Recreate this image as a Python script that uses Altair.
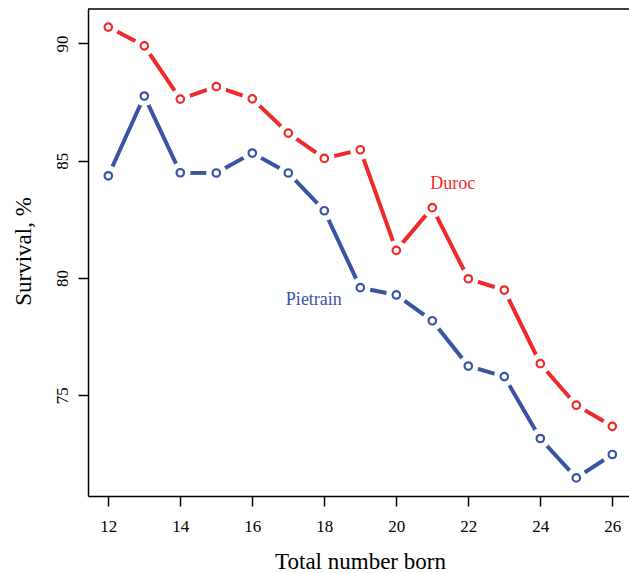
import altair as alt
import pandas as pd

total_born = list(range(12, 27))
duroc = [90.70, 89.90, 87.63, 88.16, 87.64, 86.18, 85.10, 85.47, 81.18, 83.00, 79.97, 79.49, 76.35, 74.58, 73.68]
pietrain = [84.36, 87.76, 84.49, 84.48, 85.33, 84.48, 82.87, 79.59, 79.28, 78.18, 76.25, 75.80, 73.16, 71.48, 72.48]
breeds = ["Duroc", "Pietrain"]
colors = ["#EE2A2A", "#3A53A4"]
x_ticks = [12, 14, 16, 18, 20, 22, 24, 26]
y_ticks = [75, 80, 85, 90]

label_names = ["Duroc", "Pietrain"]
label_x = [21.57, 17.71]
label_y = [84.02, 79.05]

rows = []
for b, series in zip(breeds, [duroc, pietrain]):
    for xv, yv in zip(total_born, series):
        rows.append({"born": xv, "survival": yv, "breed": b})
df = pd.DataFrame(rows)
labels = pd.DataFrame({"breed": label_names, "born": label_x, "survival": label_y})

FONT = "Liberation Serif"
W, H = 541, 487

xscale = alt.Scale(domain=[11.436, 11.436 + W / 36.0], nice=False, zero=False)
yscale = alt.Scale(domain=[70.71, 91.47], nice=False, zero=False)
cscale = alt.Scale(domain=breeds, range=colors)

xaxis = alt.Axis(values=x_ticks, format="d", title="Total number born", grid=False,
                 labelFont=FONT, labelFontWeight="normal", titleFont=FONT,
                 labelBaseline="alphabetic", labelPadding=25, labelFontSize=17,
                 titleFontSize=23, titleBaseline="alphabetic", titleX=272, titleY=72,
                 titleAlign="center")
yaxis = alt.Axis(values=y_ticks, format="d", title="Survival, %", grid=False,
                 labelFont=FONT, labelFontWeight="normal", titleFont=FONT,
                 labelAngle=270, labelAlign="center", labelBaseline="alphabetic",
                 labelPadding=11, labelFontSize=17,
                 titleFontSize=23, titleAngle=270, titleAlign="center",
                 titleBaseline="alphabetic", titleX=-58, titleY=242)

base = alt.Chart(df)
line = base.mark_line(strokeWidth=4).encode(
    x=alt.X("born:Q", scale=xscale, axis=xaxis),
    y=alt.Y("survival:Q", scale=yscale, axis=yaxis),
    color=alt.Color("breed:N", scale=cscale, legend=None),
    detail="breed:N",
)
gap = base.mark_point(shape="circle", filled=True, fill="#ffffff", stroke="#ffffff",
                      strokeWidth=13, opacity=1, fillOpacity=1, strokeOpacity=1, size=56).encode(
    x="born:Q", y="survival:Q"
)
pts = base.mark_point(shape="circle", filled=False, fill="white", fillOpacity=1, opacity=1,
                      strokeWidth=2.2, size=56).encode(
    x="born:Q", y="survival:Q",
    color=alt.Color("breed:N", scale=cscale, legend=None),
)
txt = alt.Chart(labels).mark_text(font=FONT, fontSize=18, align="center", baseline="middle").encode(
    x="born:Q", y="survival:Q", text="breed:N",
    color=alt.Color("breed:N", scale=cscale, legend=None),
)
top = alt.Chart(pd.DataFrame({"a": [0]})).mark_rule(color="black", strokeWidth=1.5).encode(
    x=alt.value(0), x2=alt.value(W), y=alt.value(0)
)

chart = alt.layer(line, gap, pts, txt, top).properties(
    width=W, height=H,
    autosize=alt.AutoSizeParams(type="none"),
    padding={"left": 88, "top": 9, "right": 0, "bottom": 77},
).configure_view(stroke=None).configure_axis(
    labelFont=FONT, titleFont=FONT, labelColor="black", titleColor="black",
    titleFontWeight="normal", labelFontWeight="normal", domainColor="black", domainWidth=1.5,
    tickColor="black", tickWidth=1.5, tickSize=10,
)

chart.save("out.html", embed_options={"renderer": "svg", "actions": False})
